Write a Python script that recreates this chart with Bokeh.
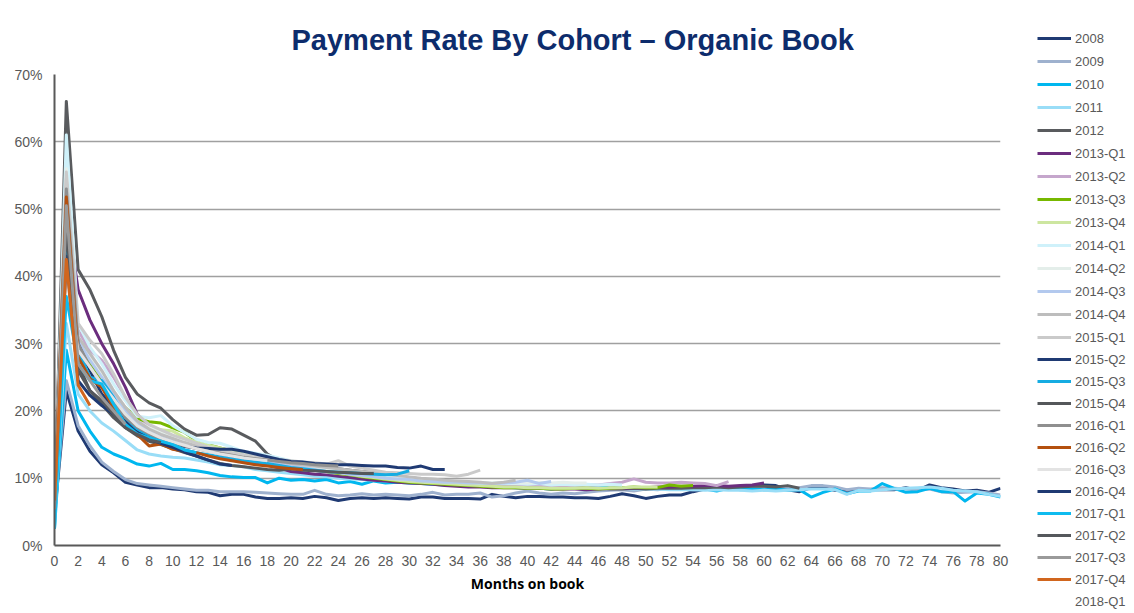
from bokeh.plotting import figure
from bokeh.layouts import row
from bokeh.models import Range1d, NumeralTickFormatter, FixedTicker, Legend, LegendItem, ColumnDataSource
from bokeh.embed import file_html
from bokeh.resources import INLINE

# ---------------- data (payment rate, % of balance, by month on book) ----------------
cohorts = ["2008", "2009", "2010", "2011", "2012",
           "2013-Q1", "2013-Q2", "2013-Q3", "2013-Q4",
           "2014-Q1", "2014-Q2", "2014-Q3", "2014-Q4",
           "2015-Q1", "2015-Q2", "2015-Q3", "2015-Q4",
           "2016-Q1", "2016-Q2", "2016-Q3", "2016-Q4",
           "2017-Q1", "2017-Q2", "2017-Q3", "2017-Q4", "2018-Q1"]

x_ticks = list(range(0, 81, 2))
y_ticks = [0.0, 0.1, 0.2, 0.3, 0.4, 0.5, 0.6, 0.7]

pr_2008 = [4.5, 23.0, 17.0, 14.0, 12.0, 10.8, 9.4, 9.0, 8.6, 8.6, 8.4, 8.3, 8.0, 7.9, 7.4, 7.6, 7.6, 7.2, 7.0, 7.0,
           7.1, 7.0, 7.3, 7.1, 6.7, 7.0, 7.1, 7.0, 7.1, 7.0, 6.9, 7.2, 7.2, 7.0, 7.0, 7.0, 6.9, 7.6, 7.3, 7.1,
           7.3, 7.3, 7.2, 7.2, 7.1, 7.1, 7.0, 7.3, 7.7, 7.4, 7.0, 7.3, 7.5, 7.5, 8.0, 8.4, 8.4, 8.4, 8.4, 8.6,
           9.0, 8.9, 8.3, 8.0, 8.6, 8.6, 8.2, 8.2, 8.2, 8.3, 8.3, 8.3, 8.6, 8.2, 9.0, 8.6, 8.4, 8.1, 8.2, 7.9, 8.5]
pr_2009 = [4.8, 24.5, 17.8, 14.8, 12.4, 11.0, 9.8, 9.2, 9.0, 8.8, 8.6, 8.4, 8.2, 8.2, 8.0, 8.0, 8.0, 7.9, 7.8, 7.7,
           7.6, 7.6, 8.2, 7.6, 7.4, 7.5, 7.7, 7.5, 7.6, 7.5, 7.4, 7.6, 7.9, 7.5, 7.6, 7.6, 7.8, 7.2, 7.4, 7.8,
           8.1, 7.8, 7.6, 7.8, 7.7, 7.9, 8.1, 8.2, 8.3, 8.1, 8.4, 8.3, 8.5, 8.4, 8.3, 8.4, 8.5, 8.6, 8.5, 8.6,
           8.7, 8.6, 8.5, 8.6, 8.9, 8.9, 8.7, 8.3, 8.5, 8.4, 8.6, 8.5, 8.4, 8.3, 8.4, 8.0, 7.8, 7.9, 8.0, 7.8, 7.5]
pr_2010 = [2.5, 29.0, 20.0, 17.0, 14.6, 13.6, 12.9, 12.1, 11.8, 12.2, 11.3, 11.3, 11.1, 10.8, 10.4, 10.2, 10.1, 10.1, 9.3, 10.0,
           9.7, 9.8, 9.6, 9.8, 9.3, 9.5, 9.1, 9.6, 9.3, 9.4, 9.3, 9.2, 9.1, 9.0, 9.0, 8.9, 8.8, 8.8, 8.7, 8.6,
           8.6, 8.5, 8.4, 8.6, 8.5, 8.4, 8.9, 8.5, 8.6, 8.5, 8.6, 8.5, 8.6, 8.4, 8.5, 8.4, 8.1, 8.5, 8.3, 8.4,
           8.3, 8.4, 8.2, 8.3, 7.2, 7.9, 8.4, 7.7, 8.1, 8.1, 9.2, 8.5, 7.9, 8.0, 8.5, 8.0, 8.0, 6.6, 7.8, 7.6, 7.2]
pr_2011 = [3.0, 33.0, 22.5, 20.0, 18.2, 17.0, 15.6, 14.2, 13.6, 13.3, 13.1, 13.0, 12.7, 12.4, 12.0, 11.9, 11.7, 11.3, 11.1, 10.9,
           10.7, 10.5, 10.3, 10.2, 10.0, 9.9, 9.8, 9.7, 9.6, 9.5, 9.4, 9.4, 9.3, 9.2, 9.1, 9.1, 9.0, 8.9, 8.9, 8.8,
           8.8, 8.7, 8.7, 8.6, 8.6, 8.6, 8.5, 8.5, 8.5, 8.4, 8.4, 8.4, 8.3, 8.3, 8.3, 8.2, 8.3, 8.2, 8.2, 8.1,
           8.2, 8.1, 8.2, 8.3, 8.4, 8.4, 8.3, 7.6, 8.2, 8.1, 8.3, 8.4, 8.5, 8.6, 8.7, 8.5, 8.2, 8.1, 8.0, 7.6, 7.3]
pr_2012 = [6.0, 66.0, 41.0, 38.0, 34.0, 29.0, 25.0, 22.5, 21.2, 20.4, 18.7, 17.3, 16.4, 16.5, 17.5, 17.3, 16.4, 15.5, 13.6, 12.6,
           12.3, 12.1, 11.8, 11.6, 11.4, 11.2, 11.0, 10.8, 10.5, 10.3, 10.1, 9.9, 9.7, 9.5, 9.4, 9.2, 9.1, 9.0, 8.9, 8.8,
           8.8, 8.7, 8.6, 8.6, 8.5, 8.5, 8.5, 8.4, 8.4, 8.5, 8.4, 8.5, 8.5, 8.5, 8.6, 8.6, 8.7, 8.6, 8.7, 8.8,
           8.8, 8.7, 8.9, 8.5]
pr_2013_q1 = [5.5, 50.0, 38.0, 33.5, 30.0, 27.0, 23.5, 19.5, 17.8, 17.0, 16.0, 15.3, 14.8, 14.2, 13.6, 13.1, 12.6, 12.3, 12.0, 11.5,
              11.0, 10.8, 10.6, 10.5, 10.3, 10.1, 9.9, 9.7, 9.6, 9.4, 9.3, 9.2, 9.1, 8.9, 8.8, 8.7, 8.7, 8.6, 8.6, 8.6,
              8.5, 8.5, 8.4, 8.4, 8.4, 8.3, 8.4, 8.5, 8.5, 8.6, 8.6, 8.7, 8.7, 8.8, 8.8, 8.9, 8.9, 8.8, 8.9, 9.0,
              9.3]
pr_2013_q2 = [5.0, 47.0, 32.0, 29.0, 27.5, 25.0, 22.0, 19.3, 17.6, 16.8, 16.0, 15.4, 14.9, 14.4, 14.0, 13.6, 13.3, 13.0, 12.7, 12.3,
              11.8, 11.4, 11.1, 10.9, 10.7, 10.5, 10.3, 10.1, 9.9, 9.8, 9.6, 9.5, 9.4, 9.3, 9.2, 9.1, 9.0, 9.0, 8.9, 8.9,
              8.8, 8.8, 8.8, 8.9, 8.9, 9.0, 9.0, 9.2, 9.4, 9.9, 9.4, 9.3, 9.3, 9.4, 9.3, 9.2, 8.9, 9.5]
pr_2013_q3 = [5.0, 45.0, 30.0, 27.0, 24.5, 22.5, 20.5, 18.8, 18.4, 18.2, 17.5, 16.8, 15.6, 15.0, 14.5, 14.0, 13.6, 13.3, 13.0, 12.6,
              12.2, 11.8, 11.4, 11.0, 10.7, 10.5, 10.2, 10.0, 9.8, 9.6, 9.4, 9.3, 9.2, 9.1, 9.0, 8.9, 8.8, 8.7, 8.6, 8.6,
              8.5, 8.5, 8.4, 8.4, 8.5, 8.5, 8.4, 8.5, 8.6, 8.7, 8.6, 8.6, 9.0, 8.8, 8.9]
pr_2013_q4 = [5.2, 42.0, 29.0, 26.5, 24.0, 22.0, 19.8, 18.0, 17.4, 17.2, 17.0, 16.0, 15.4, 14.9, 14.5, 14.1, 13.7, 13.4, 13.1, 12.8,
              12.4, 12.0, 11.6, 11.2, 10.9, 10.6, 10.3, 10.1, 9.9, 9.7, 9.5, 9.4, 9.3, 9.2, 9.1, 9.0, 8.9, 8.8, 8.7, 8.7,
              8.6, 8.6, 8.5, 8.5, 8.5, 8.6, 8.5, 8.6, 8.6, 8.7, 8.7, 8.7]
pr_2014_q1 = [4.5, 61.0, 33.0, 29.5, 27.0, 24.0, 21.5, 19.2, 19.0, 19.3, 17.8, 16.8, 15.8, 15.3, 15.2, 14.6, 14.0, 13.7, 13.4, 13.0,
              12.6, 12.2, 11.8, 11.5, 11.2, 11.0, 10.7, 10.5, 10.3, 10.1, 9.9, 9.8, 9.7, 9.6, 9.5, 9.4, 9.3, 9.3, 9.2, 9.2,
              9.1, 9.2, 9.0, 9.1, 9.0, 9.1, 9.0, 9.1, 9.0]
pr_2014_q2 = [4.8, 56.0, 31.0, 28.0, 25.5, 23.0, 20.5, 18.5, 17.5, 16.8, 16.2, 15.6, 15.0, 14.6, 14.2, 13.8, 13.5, 13.2, 12.9, 12.6,
              12.2, 11.8, 11.5, 11.2, 10.9, 10.7, 10.5, 10.3, 10.1, 9.9, 9.8, 9.7, 9.6, 9.5, 9.5, 9.4, 9.4, 9.3, 9.4, 9.3,
              9.3, 9.4, 9.3, 9.4, 9.3, 9.3]
pr_2014_q3 = [5.3, 48.0, 30.5, 27.5, 25.0, 22.5, 20.0, 18.0, 17.0, 16.3, 15.7, 15.2, 14.7, 14.3, 13.9, 13.5, 13.2, 12.9, 12.6, 12.3,
              12.0, 11.6, 11.3, 11.0, 10.8, 10.6, 10.4, 10.2, 10.0, 9.9, 9.8, 9.6, 9.5, 9.4, 9.4, 9.3, 9.3, 9.2, 9.3, 9.4,
              9.7, 9.2, 9.5]
pr_2014_q4 = [5.6, 54.5, 31.0, 28.5, 26.0, 23.0, 20.5, 18.5, 17.3, 16.5, 15.9, 15.3, 14.8, 14.4, 14.0, 13.7, 13.4, 13.1, 12.8, 12.5,
              12.2, 12.0, 11.8, 11.6, 11.4, 11.2, 11.0, 10.8, 10.6, 10.4, 10.2, 10.0, 9.9, 9.7, 9.6, 9.5, 9.4, 9.2, 9.4, 9.7]
pr_2015_q1 = [6.0, 55.5, 33.0, 30.5, 28.5, 25.5, 22.0, 19.5, 18.0, 17.2, 16.4, 15.8, 15.2, 14.6, 14.2, 13.8, 13.5, 13.2, 13.0, 12.8,
              12.6, 12.4, 12.3, 12.1, 12.6, 11.8, 11.5, 11.2, 10.9, 10.8, 10.7, 10.6, 10.6, 10.5, 10.3, 10.6, 11.2]
pr_2015_q2 = [5.5, 44.0, 30.0, 26.0, 22.5, 20.5, 18.5, 17.0, 16.2, 15.6, 15.0, 14.7, 14.5, 14.4, 14.3, 14.3, 14.0, 13.6, 13.2, 12.8,
              12.5, 12.4, 12.2, 12.1, 12.0, 12.0, 11.9, 11.8, 11.8, 11.6, 11.5, 11.8, 11.3, 11.3]
pr_2015_q3 = [5.0, 46.0, 29.0, 25.0, 24.5, 22.0, 19.0, 17.3, 16.4, 15.8, 15.0, 14.2, 13.8, 13.5, 13.2, 12.9, 12.6, 12.4, 12.2, 11.9,
              11.6, 11.4, 11.2, 11.0, 10.9, 10.8, 10.7, 10.6, 10.5, 10.6, 11.1]
pr_2015_q4 = [6.2, 49.5, 27.0, 23.0, 21.0, 19.0, 17.5, 16.3, 15.5, 15.0, 14.4, 13.8, 13.3, 12.7, 12.2, 11.9, 11.7, 11.5, 11.3, 11.2,
              11.4, 11.2, 11.1, 11.0, 10.9, 10.8, 10.7, 10.7]
pr_2016_q1 = [5.8, 53.0, 30.0, 26.5, 24.0, 21.5, 19.0, 17.6, 16.6, 15.9, 15.3, 14.8, 14.4, 14.0, 13.7, 13.4, 13.1, 12.9, 12.7, 12.5,
              12.3, 12.2, 12.0, 11.9, 11.8]
pr_2016_q2 = [6.5, 51.8, 28.0, 24.8, 23.5, 20.5, 18.0, 16.5, 14.8, 15.1, 14.3, 14.0, 13.8, 13.3, 12.9, 12.6, 12.3, 12.0, 11.8, 11.6,
              11.4, 11.3]
pr_2016_q3 = [5.5, 40.0, 29.0, 26.5, 24.0, 21.8, 19.5, 17.8, 16.8, 16.0, 15.4, 14.9, 14.4, 14.0, 13.6, 13.3, 13.0, 12.8, 12.6]
pr_2016_q4 = [5.2, 43.0, 24.5, 22.3, 20.8, 19.5, 18.0, 16.8, 15.8, 15.2, 14.6, 13.9, 13.3, 12.7, 12.1, 11.9]
pr_2017_q1 = [2.5, 37.0, 27.0, 24.5, 24.0, 21.0, 18.0, 16.6, 16.0, 15.5, 15.0, 14.2, 13.8]
pr_2017_q2 = [6.0, 47.5, 26.0, 23.0, 21.5, 19.5, 17.5, 16.5, 15.7, 15.3]
pr_2017_q3 = [5.4, 50.5, 27.0, 24.5, 22.0, 20.0, 18.0]
pr_2017_q4 = [6.7, 42.5, 23.8, 20.8]
pr_2018_q1 = [5.0]

series = [pr_2008, pr_2009, pr_2010, pr_2011, pr_2012,
          pr_2013_q1, pr_2013_q2, pr_2013_q3, pr_2013_q4,
          pr_2014_q1, pr_2014_q2, pr_2014_q3, pr_2014_q4,
          pr_2015_q1, pr_2015_q2, pr_2015_q3, pr_2015_q4,
          pr_2016_q1, pr_2016_q2, pr_2016_q3, pr_2016_q4,
          pr_2017_q1, pr_2017_q2, pr_2017_q3, pr_2017_q4, pr_2018_q1]

colors = ["#1F3A73", "#9EB1CE", "#00B7EF", "#99DDF7", "#595B5E",
          "#6B2D7E", "#C5A6CC", "#77B800", "#CDE6A0",
          "#CFF1FA", "#E4EEEA", "#B3C9EE", "#BDBDBD",
          "#CACACA", "#1F3A73", "#15ACE2", "#54575A",
          "#8F8F8F", "#B4500F", "#E3E3E3", "#1F3A73",
          "#0FBBEF", "#55585C", "#9A9A9A", "#D1661E", "#FFFFFF"]

# ---------------- main chart ----------------
p = figure(width=1012, height=613, output_backend="svg", toolbar_location=None,
           x_range=Range1d(0, 80), y_range=Range1d(0, 0.70),
           min_border_left=54, min_border_right=12, min_border_top=74, min_border_bottom=68)
p.outline_line_color = None
p.background_fill_color = "white"

p.title.text = "Payment Rate By Cohort \u2013 Organic Book"
p.title.text_font = "Liberation Sans"
p.title.text_font_size = "29px"
p.title.text_font_style = "bold"
p.title.text_color = "#0D2C6C"
p.title.align = "left"
p.title.offset = 237
p.title.standoff = 38

p.xaxis.ticker = FixedTicker(ticks=x_ticks)
p.yaxis.ticker = FixedTicker(ticks=y_ticks)
p.yaxis.formatter = NumeralTickFormatter(format="0%")
for ax in (p.xaxis, p.yaxis):
    ax.axis_line_color = "#595959"
    ax.axis_line_width = 2
    ax.major_tick_line_color = None
    ax.minor_tick_line_color = None
    ax.major_tick_out = 0
    ax.major_tick_in = 0
    ax.major_label_text_font = "Liberation Sans"
    ax.major_label_text_font_size = "14px"
    ax.major_label_text_color = "#595959"
p.yaxis.major_label_standoff = 12
p.xaxis.major_label_standoff = 10
p.xaxis.axis_label = "Months on book"
p.xaxis.axis_label_text_font = "Open Sans"
p.xaxis.axis_label_text_font_size = "14px"
p.xaxis.axis_label_text_font_style = "bold"
p.xaxis.axis_label_text_color = "#000000"
p.xaxis.axis_label_standoff = 5

p.xgrid.grid_line_color = None
p.ygrid.grid_line_color = "#A0A0A0"
p.ygrid.grid_line_width = 1.3

for vals, col in zip(series, colors):
    src = ColumnDataSource(dict(month=list(range(len(vals))), rate=[v / 100.0 for v in vals]))
    p.line("month", "rate", source=src, line_color=col, line_width=3, line_join="round")

# ---------------- legend panel (keys share the series' colours) ----------------
q = figure(width=122, height=613, output_backend="svg", toolbar_location=None,
           x_range=Range1d(0, 1), y_range=Range1d(0, 1),
           x_axis_type=None, y_axis_type=None,
           min_border_left=0, min_border_right=0, min_border_top=0, min_border_bottom=0)
q.frame_align = False
q.outline_line_color = None
q.xgrid.visible = False
q.ygrid.visible = False
items = []
for name, col in zip(cohorts, colors):
    # key-only renderer: its two points lie outside the visible range
    r = q.line(x=[-3, -2], y=[-3, -3], line_color=col, line_width=3)
    items.append(LegendItem(label=name, renderers=[r]))

common = dict(glyph_width=34, glyph_height=20, label_height=20, padding=0, margin=0,
              label_standoff=4, label_text_font="Liberation Sans", label_text_font_size="13px",
              label_text_color="#595959", background_fill_alpha=0, border_line_alpha=0)
leg_a = Legend(items=items[:13], location=(25, 289), spacing=3, **common)
leg_b = Legend(items=items[13:], location=(25, 2), spacing=2, **common)
q.add_layout(leg_a, "center")
q.add_layout(leg_b, "center")

layout = row(p, q)
open("out.html", "w").write(file_html(layout, INLINE))
